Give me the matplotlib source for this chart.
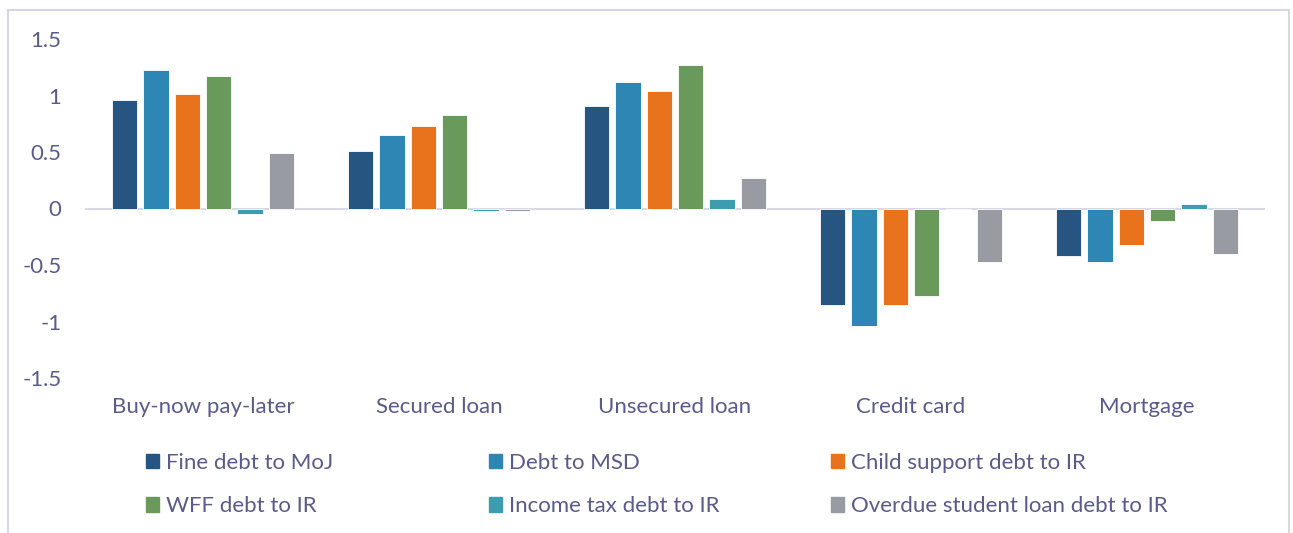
import numpy as np
from matplotlib import pyplot as plt
from matplotlib.patches import Rectangle, Patch

# DATA
categories = ['Buy-now pay-later', 'Secured loan', 'Unsecured loan', 'Credit card', 'Mortgage']
series_names = ['Fine debt to MoJ', 'Debt to MSD', 'Child support debt to IR',
                'WFF debt to IR', 'Income tax debt to IR', 'Overdue student loan debt to IR']
fine_moj = [0.96, 0.51, 0.91, -0.855, -0.42]
debt_msd = [1.23, 0.65, 1.12, -1.04, -0.475]
child_support = [1.01, 0.73, 1.04, -0.85, -0.32]
wff = [1.17, 0.83, 1.27, -0.77, -0.115]
income_tax = [-0.05, -0.02, 0.08, 0.0, 0.04]
student_loan = [0.49, -0.02, 0.27, -0.47, -0.40]

colors = ['#255580', '#2E86B4', '#E8731C', '#6A9A5B', '#3C9DAE', '#989BA1']
txt = '#5a5a8c'

plt.rcParams['font.family'] = ['Lato', 'DejaVu Sans']

fig = plt.figure(figsize=(12.93, 5.33), dpi=100)
# outer frame
fig.patches.append(Rectangle((8 / 1293, -0.1), 1281 / 1293, 1.1 - 10 / 533, transform=fig.transFigure,
                             fill=False, edgecolor='#D6D6E6', linewidth=1.5))

ax = fig.add_axes([85 / 1293, 1 - 378 / 533, 1180 / 1293, 339 / 533])

values = [fine_moj, debt_msd, child_support, wff, income_tax, student_loan]
x = np.arange(len(categories))
slot = 0.133
width = 0.107
for i, vals in enumerate(values):
    ax.bar(x + (i - 2.5) * slot, vals, width, color=colors[i], label=series_names[i],
           edgecolor='white', linewidth=0.6)

ax.set_xlim(-0.5, 4.5)
ax.set_ylim(-1.5, 1.5)
ax.set_yticks([-1.5, -1, -0.5, 0, 0.5, 1, 1.5])
ax.set_yticklabels(['-1.5', '-1', '-0.5', '0', '0.5', '1', '1.5'])
ax.axhline(0, color='#D9D9E6', linewidth=1.5, zorder=0)
for s in ax.spines.values():
    s.set_visible(False)
ax.tick_params(axis='y', length=0, pad=17, labelsize=16, labelcolor=txt)
ax.set_xticks(x)
ax.set_xticklabels(categories)
ax.tick_params(axis='x', length=0, pad=14, labelsize=16, labelcolor=txt)

# legend in three fixed columns
col_x = [146, 489, 831]
order = [[0, 3], [1, 4], [2, 5]]
for cx, idx in zip(col_x, order):
    handles = [Patch(color=colors[k], label=series_names[k]) for k in idx]
    leg = fig.legend(handles=handles, loc='upper left', bbox_to_anchor=(cx / 1293, 1 - 453 / 533),
                     frameon=False, fontsize=16, labelcolor=txt, handlelength=0.6,
                     handleheight=0.6, handletextpad=0.3, labelspacing=1.05, borderaxespad=0,
                     borderpad=0)

plt.savefig('out.png', dpi=100)
